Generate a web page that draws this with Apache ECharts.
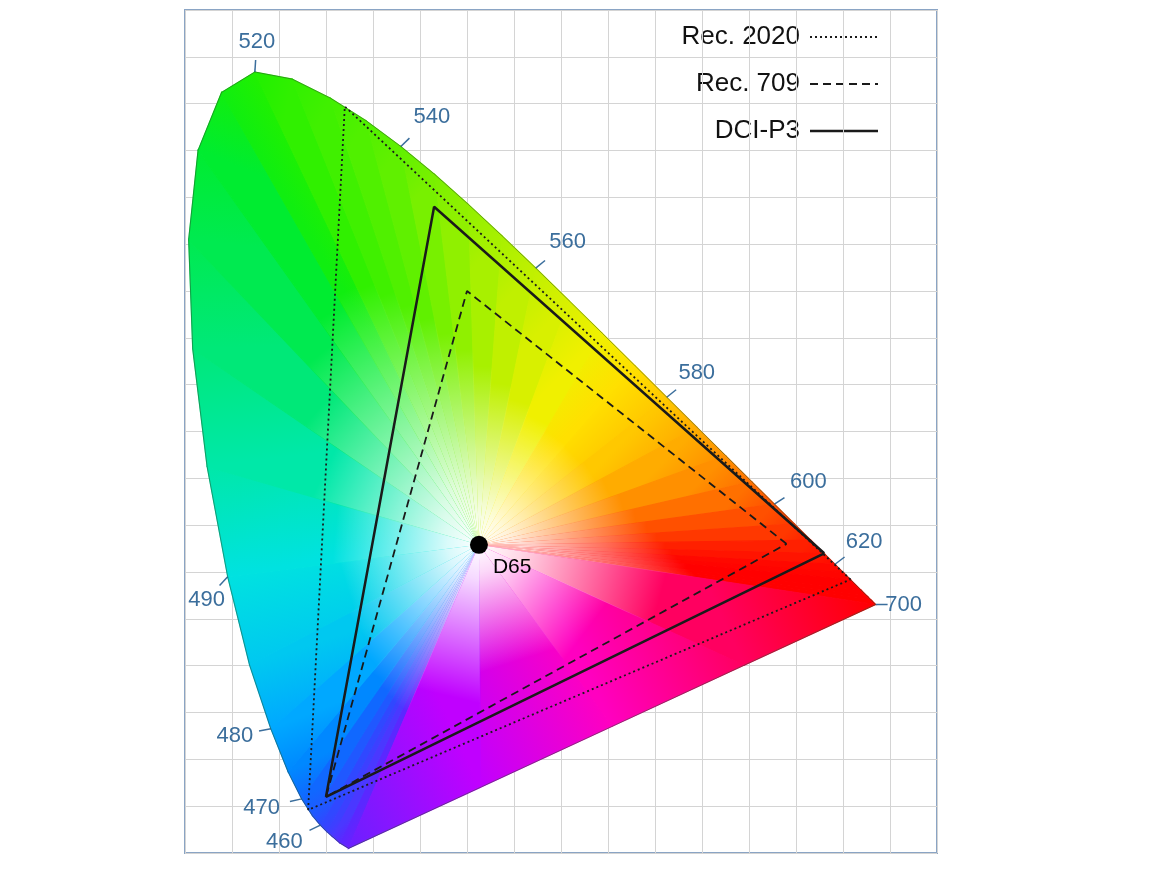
<!DOCTYPE html>
<html>
<head>
<meta charset="utf-8">
<script src="https://cdn.jsdelivr.net/npm/echarts@6/dist/echarts.min.js"></script>
<style>html,body{margin:0;background:#fff}#chart{width:1174px;height:872px}</style>
</head>
<body>
<div id="chart"></div>
<script>
// spectral locus (CIE 1931, 2 deg)
const locusWl = [380, 440, 450, 455, 460, 465, 470, 475, 480, 485, 490, 495, 500, 505, 510, 515, 520, 525, 530, 535, 540, 545, 550, 555, 560, 565, 570, 575, 580, 585, 590, 595, 600, 605, 610, 615, 620, 625, 630, 640, 650, 660, 700];
const locusX = [0.1741, 0.1644, 0.1566, 0.1510, 0.1440, 0.1355, 0.1241, 0.1096, 0.0913, 0.0687, 0.0454, 0.0235, 0.0082, 0.0039, 0.0139, 0.0389, 0.0743, 0.1142, 0.1547, 0.1929, 0.2296, 0.2658, 0.3016, 0.3373, 0.3731, 0.4087, 0.4441, 0.4788, 0.5125, 0.5448, 0.5752, 0.6029, 0.6270, 0.6482, 0.6658, 0.6801, 0.6915, 0.7006, 0.7079, 0.7190, 0.7260, 0.7300, 0.7347];
const locusY = [0.0050, 0.0109, 0.0177, 0.0227, 0.0297, 0.0399, 0.0578, 0.0868, 0.1327, 0.2007, 0.2950, 0.4127, 0.5384, 0.6548, 0.7502, 0.8120, 0.8338, 0.8262, 0.8059, 0.7816, 0.7543, 0.7243, 0.6923, 0.6589, 0.6245, 0.5896, 0.5547, 0.5202, 0.4866, 0.4544, 0.4242, 0.3965, 0.3725, 0.3514, 0.3340, 0.3197, 0.3083, 0.2993, 0.2920, 0.2809, 0.2740, 0.2700, 0.2653];
const locusColor = ['#6a20ff', '#5a28ff', '#4a38ff', '#3c40ff', '#3048ff', '#2058ff', '#1068ff', '#0088ff', '#00a8ff', '#00c8f0', '#00e2e0', '#00e8a8', '#00e878', '#00ea50', '#00ec30', '#10ee10', '#20f000', '#30f000', '#40f000', '#50f000', '#60f000', '#78f000', '#90f000', '#a8f000', '#c0f000', '#d8f000', '#f0f000', '#ffe000', '#ffc800', '#ffac00', '#ff9000', '#ff7000', '#ff5000', '#ff3800', '#ff2000', '#ff1400', '#ff0800', '#ff0400', '#ff0000', '#ff0000', '#ff0000', '#ff0000', '#ff0000'];
// line of purples, from 700 back to 380
const purpleX = [0.5946, 0.4544, 0.3143];
const purpleY = [0.2004, 0.1352, 0.0701];
const purpleColor = ['#ff0060', '#ff00c0', '#c000ff'];

const whitePoint = [0.3127, 0.3290];

const gamutNames = ['Rec. 2020', 'Rec. 709', 'DCI-P3'];
const gamutX = [[0.708, 0.170, 0.131], [0.64, 0.30, 0.15], [0.680, 0.265, 0.150]];
const gamutY = [[0.292, 0.797, 0.046], [0.33, 0.60, 0.06], [0.320, 0.690, 0.060]];
const gamutDash = [[2, 3], [8, 5], 'solid'];

const tickWl = [520, 540, 560, 580, 600, 620, 700, 490, 480, 470, 460];
const tickOffset = [[2, -30], [31, -30], [32, -26], [30, -24], [34, -22], [29, -22], [28, 0], [-21, 23], [-36, 7], [-40, 9], [-36, 17]];

const chart = echarts.init(document.getElementById('chart'));

const ringX = locusX.concat(purpleX);
const ringY = locusY.concat(purpleY);
const ringColor = locusColor.concat(purpleColor);
const ring = ringX.map((x, i) => [x, ringY[i]]);

const tickData = tickWl.map((w, i) => {
  const k = locusWl.indexOf(w);
  return [locusX[k], locusY[k], tickOffset[i][0], tickOffset[i][1], String(w)];
});

const series = [];

// base hue: gradient along each locus segment
series.push({
  type: 'custom',
  coordinateSystem: 'cartesian2d',
  data: ring,
  silent: true,
  renderItem(params, api) {
    const i = params.dataIndex;
    const j = (i + 1) % ring.length;
    const w = api.coord(whitePoint);
    const a = api.coord(ring[i]);
    const b = api.coord(ring[j]);
    const fill = new echarts.graphic.LinearGradient(a[0], a[1], b[0] + 0.01, b[1] + 0.01, [
      { offset: 0, color: ringColor[i] },
      { offset: 1, color: ringColor[j] }
    ], true);
    return {
      type: 'polygon',
      shape: { points: [w, a, b] },
      style: { fill: fill, stroke: fill, lineWidth: 1.2 }
    };
  }
});

// whitening toward D65
series.push({
  type: 'custom',
  coordinateSystem: 'cartesian2d',
  data: ring,
  silent: true,
  renderItem(params, api) {
    const i = params.dataIndex;
    const j = (i + 1) % ring.length;
    const w = api.coord(whitePoint);
    const a = api.coord(ring[i]);
    const b = api.coord(ring[j]);
    const m = [(a[0] + b[0]) / 2, (a[1] + b[1]) / 2];
    const fill = new echarts.graphic.LinearGradient(w[0], w[1], m[0], m[1], [
      { offset: 0, color: 'rgba(255,255,255,1)' },
      { offset: 0.12, color: 'rgba(255,255,255,0.85)' },
      { offset: 0.55, color: 'rgba(255,255,255,0)' },
      { offset: 1, color: 'rgba(255,255,255,0)' }
    ], true);
    return {
      type: 'polygon',
      shape: { points: [w, a, b] },
      style: { fill: fill }
    };
  }
});

series.push({
  type: 'line',
  data: ring.concat([ring[0]]),
  symbol: 'none',
  silent: true,
  lineStyle: { color: 'rgba(40,80,40,0.5)', width: 1 }
});

gamutNames.forEach((name, g) => {
  const pts = gamutX[g].map((x, i) => [x, gamutY[g][i]]);
  series.push({
    name: name,
    type: 'line',
    data: pts.concat([pts[0]]),
    symbol: 'none',
    silent: true,
    lineStyle: { color: '#1a1a1a', width: g === 2 ? 2.5 : 1.8, type: gamutDash[g] }
  });
});

series.push({
  type: 'custom',
  coordinateSystem: 'cartesian2d',
  data: tickData,
  silent: true,
  renderItem(params, api) {
    const p = api.coord([api.value(0), api.value(1)]);
    const dx = api.value(2), dy = api.value(3);
    const len = Math.sqrt(dx * dx + dy * dy);
    const txt = tickData[params.dataIndex][4];
    return {
      type: 'group',
      children: [{
        type: 'line',
        shape: { x1: p[0], y1: p[1], x2: p[0] + dx / len * 12, y2: p[1] + dy / len * 12 },
        style: { stroke: '#3b6e9c', lineWidth: 1.5 }
      }, {
        type: 'text',
        style: {
          text: txt, x: p[0] + dx, y: p[1] + dy, fill: '#3b6e9c',
          font: '22px "Liberation Sans", Arial, sans-serif',
          textAlign: 'center', textVerticalAlign: 'middle'
        }
      }]
    };
  }
});

series.push({
  type: 'scatter',
  data: [whitePoint],
  symbolSize: 18,
  itemStyle: { color: '#000', opacity: 1 },
  label: {
    show: true, formatter: 'D65', position: 'right', offset: [0, 22],
    color: '#000', fontSize: 21, fontFamily: 'Liberation Sans'
  }
});

const legendGraphic = [];
gamutNames.forEach((name, g) => {
  const y = 37 + g * 47;
  legendGraphic.push({
    type: 'text',
    style: {
      text: name, x: 800, y: y, fill: '#111',
      font: '26px "Liberation Sans", Arial, sans-serif',
      textAlign: 'right', textVerticalAlign: 'middle'
    }
  });
  legendGraphic.push({
    type: 'line',
    shape: { x1: 810, y1: y, x2: 878, y2: y },
    style: { stroke: '#1a1a1a', lineWidth: g === 2 ? 2.5 : 1.8, lineDash: gamutDash[g] === 'solid' ? null : gamutDash[g] }
  });
});

chart.setOption({
  animation: false,
  grid: { left: 185, right: 237, top: 10, bottom: 19, show: true, borderColor: '#8aa4c4', borderWidth: 2 },
  xAxis: {
    type: 'value', min: 0, max: 0.8, interval: 0.05,
    axisLine: { show: false }, axisTick: { show: false }, axisLabel: { show: false },
    splitLine: { lineStyle: { color: '#d4d4d4' } }
  },
  yAxis: {
    type: 'value', min: 0, max: 0.9, interval: 0.05,
    axisLine: { show: false }, axisTick: { show: false }, axisLabel: { show: false },
    splitLine: { lineStyle: { color: '#d4d4d4' } }
  },
  graphic: legendGraphic,
  series: series
});
</script>
</body>
</html>
